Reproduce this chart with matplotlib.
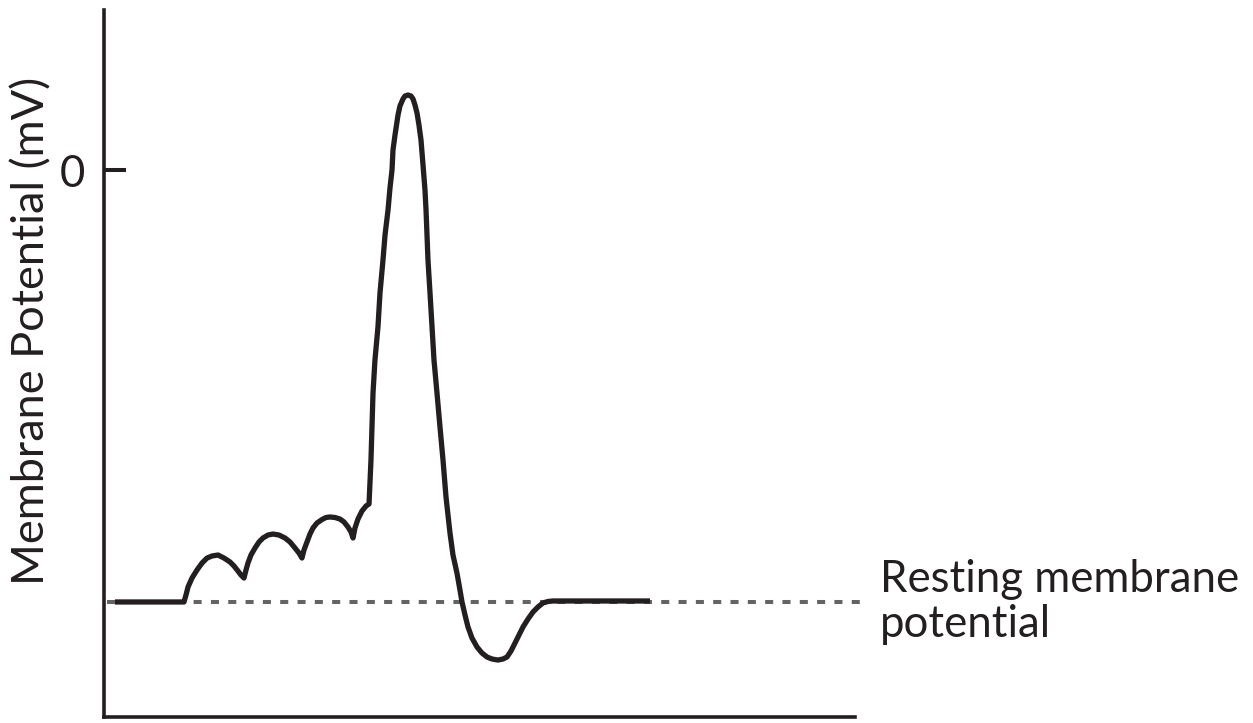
import matplotlib
matplotlib.use("Agg")
import matplotlib.pyplot as plt

# Time (ms) and membrane potential (mV)
time_ms = [0.146, 1.065,
           1.092, 1.119, 1.172, 1.238, 1.305, 1.372, 1.438, 1.518, 1.598,
           1.678, 1.731, 1.784, 1.824, 1.864,
           1.891, 1.917, 1.957, 2.011, 2.064, 2.117, 2.184, 2.250, 2.330,
           2.410, 2.477, 2.543, 2.597, 2.636,
           2.663, 2.703, 2.743, 2.783, 2.836, 2.903, 2.956, 3.009, 3.076,
           3.142, 3.196, 3.249, 3.289, 3.316,
           3.342, 3.382, 3.435, 3.489, 3.529,
           3.555, 3.582, 3.608, 3.648, 3.675, 3.715, 3.742, 3.782, 3.808,
           3.835, 3.848, 3.875, 3.915, 3.941, 3.981, 4.008, 4.048, 4.088,
           4.115, 4.141, 4.168, 4.194, 4.221, 4.248, 4.274, 4.288, 4.314,
           4.341, 4.368, 4.394, 4.434, 4.474, 4.514, 4.554, 4.607, 4.647,
           4.700, 4.740, 4.767, 4.807, 4.847, 4.900, 4.967, 5.033, 5.100,
           5.166, 5.246, 5.313, 5.366, 5.419, 5.473, 5.526, 5.579, 5.646,
           5.712, 5.779, 5.845, 5.912, 5.979, 6.205, 7.270]
potential_mv = [-70.00, -70.00,
                -68.87, -67.57, -66.12, -64.82, -63.69, -62.88, -62.55, -62.39, -62.88,
                -63.52, -64.17, -64.98, -65.63, -66.12,
                -64.82, -63.69, -62.39, -61.25, -60.28, -59.63, -59.15, -58.99, -59.15,
                -59.63, -60.28, -61.25, -62.07, -62.88,
                -61.58, -60.28, -58.99, -58.01, -57.20, -56.64, -56.31, -56.23, -56.31,
                -56.56, -57.04, -57.85, -58.66, -59.63,
                -58.01, -56.56, -55.26, -54.45, -54.12,
                -46.99, -36.14, -30.79, -25.44, -19.93, -14.58, -10.53, -6.48, -2.92,
                0.00, 3.24, 5.67, 8.91, 10.37, 11.51, 11.99, 12.15, 11.99,
                11.51, 10.53, 9.24, 7.29, 4.86, 0.81, -3.24, -6.48, -14.58,
                -19.93, -25.44, -30.79, -36.14, -41.65, -46.99, -52.99, -58.82, -62.39,
                -65.31, -68.06, -70.00, -72.11, -74.06, -75.84, -77.30, -78.27, -78.92,
                -79.24, -79.41, -79.24, -78.92, -77.95, -76.65, -75.35, -74.06, -72.76,
                -71.63, -70.81, -70.16, -69.92, -69.84, -69.84, -69.84]

resting_mv = -70.0
resting_span = [0.04, 10.13]
y_ticks = [0]
y_tick_labels = ["0"]
y_label = "Membrane Potential (mV)"
rest_label = "Resting membrane\npotential"

FONT = "Lato"
FS = 31.5
INK = "#231f20"
GREY = "#636466"

fig = plt.figure(figsize=(12.53, 7.23), dpi=100)
ax = fig.add_axes([104/1253, 6/723, 751/1253, 707/723])
ax.set_xlim(0, 10)
ax.set_ylim(-88.64, 25.93)

ax.plot(resting_span, [resting_mv, resting_mv], color=GREY, lw=2.9,
        linestyle=(0, (2.0, 2.3)), clip_on=False, zorder=2,
        solid_capstyle="butt", dash_capstyle="butt")
ax.plot(time_ms, potential_mv, color=INK, lw=3.8, zorder=3,
        solid_joinstyle="round", solid_capstyle="butt")

for s in ["top", "right"]:
    ax.spines[s].set_visible(False)
for s in ["left", "bottom"]:
    ax.spines[s].set_linewidth(2.6)
    ax.spines[s].set_color(INK)

ax.set_xticks([])
ax.set_yticks(y_ticks)
ax.set_yticklabels(y_tick_labels, fontsize=FS, family=FONT, color=INK)
ax.tick_params(axis="y", which="major", direction="in", length=15.8,
               width=2.9, color=INK, pad=13.5)
ax.set_yticks(y_ticks, minor=True)
ax.tick_params(axis="y", which="minor", direction="out", length=8.6,
               width=2.9, color=INK)

fig.text(32/1253, 1 - 331/723, y_label, rotation=90, ha="center", va="center",
         fontsize=32.5, family=FONT, color=INK)

ax.annotate(rest_label, xy=((880-104)/751, resting_mv),
            xycoords=("axes fraction", "data"), ha="left", va="center",
            fontsize=FS, family=FONT, color=INK, linespacing=1.12,
            annotation_clip=False)

fig.savefig("out.png", dpi=100)
